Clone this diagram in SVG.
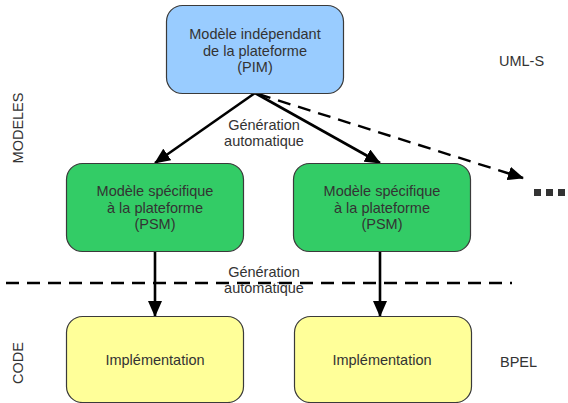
<svg xmlns="http://www.w3.org/2000/svg" width="568" height="403" viewBox="0 0 568 403">
  <defs>
    <marker id="head" markerUnits="userSpaceOnUse" markerWidth="16" markerHeight="14" viewBox="0 0 16 14" refX="15" refY="7" orient="auto">
      <path d="M0,0 L16,7 L0,14 Z" fill="#000"/>
    </marker>
    <style>
      .box { stroke: #3a3a3a; stroke-width: 1.2; }
      .pim { fill: #99ccff; }
      .psm { fill: #33cc66; }
      .impl { fill: #ffff99; }
      text { font-family: "Liberation Sans", Arial, sans-serif; font-size: 14.5px; fill: #333; }
      .c { text-anchor: middle; }
      .solid { stroke: #000; stroke-width: 2.6; fill: none; }
      .dash { stroke: #000; stroke-width: 2.4; fill: none; stroke-dasharray: 13 8; }
    </style>
  </defs>
  <rect width="568" height="403" fill="#fff"/>

  <!-- section labels -->
  <text transform="translate(23,128) rotate(-90)" class="c">MODELES</text>
  <text transform="translate(23,363) rotate(-90)" class="c">CODE</text>
  <text x="499" y="66">UML-S</text>
  <text x="500" y="367">BPEL</text>

  <!-- connectors -->
  <g id="connectors">
    <line class="solid" x1="255" y1="93" x2="155" y2="163" marker-end="url(#head)"/>
    <line class="solid" x1="255" y1="93" x2="380" y2="163" marker-end="url(#head)"/>
    <line class="dash" x1="258" y1="94" x2="523" y2="178" stroke-dasharray="14 9" marker-end="url(#head)"/>
    <line class="solid" x1="155" y1="251" x2="155" y2="316" marker-end="url(#head)"/>
    <line class="solid" x1="380" y1="251" x2="380" y2="316" marker-end="url(#head)"/>
    <line class="dash" x1="6" y1="283" x2="512" y2="283"/>
    <text x="264" y="130" class="c">Génération</text>
    <text x="264" y="146" class="c">automatique</text>
    <text x="264" y="277" class="c">Génération</text>
    <text x="264" y="293" class="c">automatique</text>
  </g>

  <!-- continuation dots -->
  <g id="more" fill="#333">
    <rect x="534" y="189" width="7" height="7"/>
    <rect x="546" y="189" width="7" height="7"/>
    <rect x="558" y="189" width="7" height="7"/>
  </g>

  <g id="pim">
    <rect class="box pim" x="166.5" y="5.5" width="177" height="88" rx="16"/>
    <text x="255" y="39" class="c">Modèle indépendant</text>
    <text x="255" y="55.5" class="c">de la plateforme</text>
    <text x="255" y="72" class="c">(PIM)</text>
  </g>

  <g id="psm1">
    <rect class="box psm" x="66.5" y="163.5" width="177" height="88" rx="16"/>
    <text x="155" y="196" class="c">Modèle spécifique</text>
    <text x="155" y="212.5" class="c">à la plateforme</text>
    <text x="155" y="229" class="c">(PSM)</text>
  </g>

  <g id="psm2">
    <rect class="box psm" x="293.5" y="163.5" width="177" height="88" rx="16"/>
    <text x="382" y="196" class="c">Modèle spécifique</text>
    <text x="382" y="212.5" class="c">à la plateforme</text>
    <text x="382" y="229" class="c">(PSM)</text>
  </g>

  <g id="impl1">
    <rect class="box impl" x="66.5" y="316.5" width="177" height="86" rx="16"/>
    <text x="155" y="365" class="c">Implémentation</text>
  </g>

  <g id="impl2">
    <rect class="box impl" x="294.5" y="316.5" width="177" height="86" rx="16"/>
    <text x="382" y="365" class="c">Implémentation</text>
  </g>
</svg>
